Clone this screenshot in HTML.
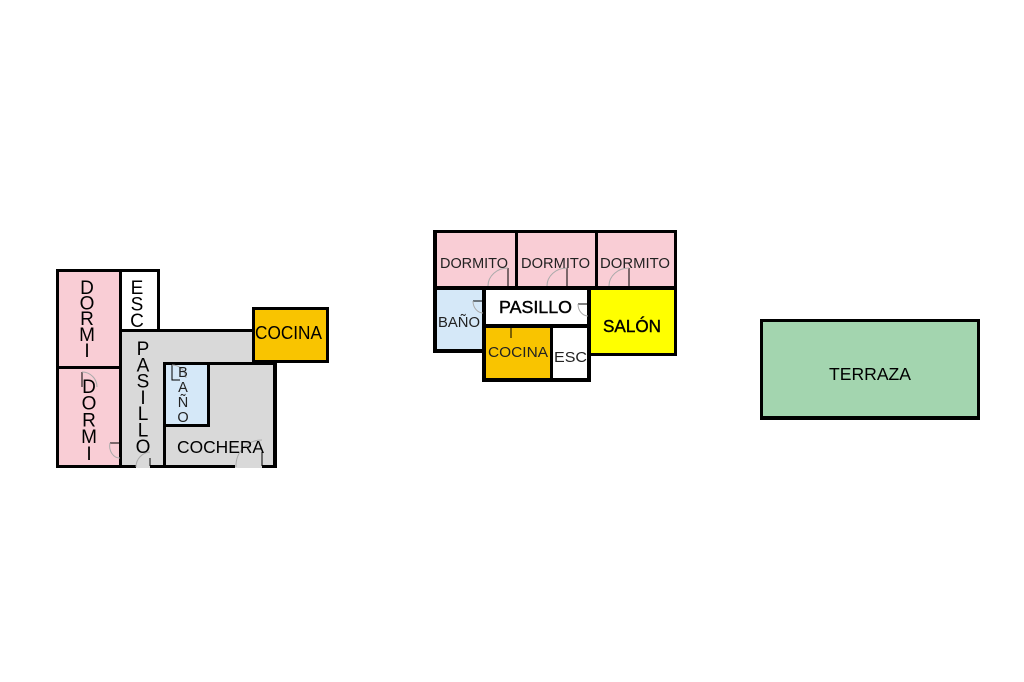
<!DOCTYPE html>
<html><head><meta charset="utf-8"><style>
html,body{margin:0;padding:0;background:#fff;}
svg{display:block;}
text{font-family:"Liberation Sans",Arial,sans-serif;}
</style></head><body>
<svg width="1024" height="682" viewBox="0 0 1024 682" xmlns="http://www.w3.org/2000/svg">
<rect width="1024" height="682" fill="#fff"/>

<!-- LEFT PLAN fills -->
<rect x="57" y="270" width="64" height="197" fill="#f9cdd5"/>
<rect x="121" y="330" width="44" height="138" fill="#d9d9d9"/>
<rect x="121" y="330" width="133" height="33" fill="#d9d9d9"/>
<rect x="164" y="362" width="112" height="106" fill="#d9d9d9"/>
<rect x="165" y="364" width="44" height="62" fill="#d5e8f8"/>
<rect x="253" y="308" width="76" height="55" fill="#f9c400"/>

<!-- LEFT PLAN walls -->
<g fill="#000">
<rect x="56" y="269" width="104" height="3"/>
<rect x="56" y="269" width="3" height="199"/>
<rect x="119" y="269" width="3" height="199"/>
<rect x="157" y="269" width="3" height="62"/>
<rect x="119" y="329" width="136" height="3"/>
<rect x="56" y="366" width="66" height="3"/>
<rect x="252" y="307" width="77" height="3"/>
<rect x="252" y="307" width="3" height="56"/>
<rect x="326" y="307" width="3" height="56"/>
<rect x="252" y="360" width="77" height="3"/>
<rect x="163" y="362" width="114" height="3"/>
<rect x="163" y="362" width="3" height="106"/>
<rect x="273" y="362" width="4" height="106"/>
<rect x="207" y="362" width="3" height="65"/>
<rect x="163" y="424" width="47" height="3"/>
<rect x="56" y="465" width="80" height="3"/>
<rect x="150" y="465" width="85" height="3"/>
<rect x="262" y="465" width="15" height="3"/>
</g>
<!-- left doors -->
<g fill="none" stroke-width="1">
<path d="M82 372 L82 387" stroke="#000"/>
<path d="M82 372 A15 15 0 0 1 97 387" stroke="#aaa"/>
<path d="M110 443 L120 443" stroke="#000"/>
<path d="M110 443 A10 12 0 0 0 120 458" stroke="#aaa"/>
<path d="M172 365 L172 380 L180 380" stroke="#000"/>
<path d="M172 365 A14 14 0 0 1 186 378" stroke="#aaa"/>
<path d="M150 458 L150 466" stroke="#000"/>
<path d="M150 452 A15 15 0 0 0 136 467" stroke="#aaa"/>
<path d="M262 452 L262 466" stroke="#000"/>
<path d="M262 440 A26 26 0 0 0 236 467" stroke="#aaa"/>
</g>

<!-- LEFT PLAN text -->
<g font-size="19" fill="#000" text-anchor="middle">
<text x="87" y="294">D</text><text x="87" y="309.6">O</text><text x="87" y="325.2">R</text><text x="87" y="340.8">M</text><text x="87" y="357">I</text>
<text x="89" y="393">D</text><text x="89" y="409.7">O</text><text x="89" y="426.4">R</text><text x="89" y="443.1">M</text><text x="89" y="460">I</text>
<text x="137" y="294">E</text><text x="137" y="310.5">S</text><text x="137" y="327">C</text>
<text x="143" y="355">P</text><text x="143" y="371.3">A</text><text x="143" y="387.6">S</text><text x="143" y="403.9">I</text><text x="143" y="420.2">L</text><text x="143" y="436.5">L</text><text x="143" y="452.8">O</text>
</g>
<g font-size="14.5" fill="#222" text-anchor="middle">
<text x="183" y="377">B</text><text x="183" y="392">A</text><text x="183" y="407">Ñ</text><text x="183" y="422">O</text>
</g>
<text x="177" y="453" font-size="17.5" textLength="87" lengthAdjust="spacingAndGlyphs">COCHERA</text>
<text x="255" y="339" font-size="18" textLength="67" lengthAdjust="spacingAndGlyphs">COCINA</text>

<!-- CENTER PLAN fills -->
<rect x="434" y="231" width="243" height="58" fill="#f9cdd5"/>
<rect x="434" y="288" width="51" height="64" fill="#d5e8f8"/>
<rect x="589" y="288" width="88" height="68" fill="#ffff00"/>
<rect x="483" y="325" width="69" height="56" fill="#f9c400"/>

<!-- CENTER PLAN walls -->
<g fill="#000">
<rect x="433" y="230" width="244" height="3"/>
<rect x="433" y="230" width="4" height="123"/>
<rect x="515" y="230" width="3" height="60"/>
<rect x="595" y="230" width="3" height="60"/>
<rect x="674" y="230" width="3" height="126"/>
<rect x="433" y="286" width="244" height="4"/>
<rect x="482" y="286" width="4" height="96"/>
<rect x="433" y="349" width="53" height="4"/>
<rect x="482" y="324" width="108" height="4"/>
<rect x="550" y="324" width="3" height="58"/>
<rect x="587" y="286" width="4" height="96"/>
<rect x="482" y="378" width="108" height="4"/>
<rect x="587" y="353" width="90" height="3"/>
</g>
<!-- center doors -->
<g fill="none" stroke-width="1">
<path d="M508 268 L508 286" stroke="#000"/>
<path d="M508 268 A20 18 0 0 0 488 286" stroke="#aaa"/>
<path d="M567 268 L567 286" stroke="#000"/>
<path d="M567 268 A20 18 0 0 0 547 286" stroke="#aaa"/>
<path d="M629 268 L629 286" stroke="#000"/>
<path d="M629 268 A20 18 0 0 0 609 286" stroke="#aaa"/>
<path d="M473 301 L483 301" stroke="#000"/>
<path d="M473 301 A10 12 0 0 0 483 313" stroke="#aaa"/>
<path d="M578 304 L588 304" stroke="#000"/>
<path d="M578 304 A10 12 0 0 0 588 316" stroke="#aaa"/>
<path d="M511 328 L511 338" stroke="#000"/>
</g>

<!-- CENTER text -->
<g font-size="15" fill="#222">
<text x="440" y="268" textLength="68" lengthAdjust="spacingAndGlyphs">DORMITO</text>
<text x="521" y="268" textLength="69" lengthAdjust="spacingAndGlyphs">DORMITO</text>
<text x="600" y="268" textLength="70" lengthAdjust="spacingAndGlyphs">DORMITO</text>
<text x="438" y="327" textLength="42" lengthAdjust="spacingAndGlyphs">BAÑO</text>
<text x="488" y="357" textLength="60" lengthAdjust="spacingAndGlyphs">COCINA</text>
<text x="554" y="362" textLength="33" lengthAdjust="spacingAndGlyphs">ESC</text>
</g>
<text x="499" y="313" font-size="17.5" fill="#000" stroke="#000" stroke-width="0.4" textLength="73" lengthAdjust="spacingAndGlyphs">PASILLO</text>
<text x="603" y="332" font-size="17.5" fill="#000" stroke="#000" stroke-width="0.4" textLength="58" lengthAdjust="spacingAndGlyphs">SALÓN</text>

<!-- TERRAZA -->
<rect x="760" y="319" width="220" height="101" fill="#a3d5af"/>
<g fill="#000">
<rect x="760" y="319" width="220" height="3"/>
<rect x="760" y="416" width="220" height="4"/>
<rect x="760" y="319" width="3" height="101"/>
<rect x="977" y="319" width="3" height="101"/>
</g>
<text x="829" y="380" font-size="17.5" fill="#000" textLength="82" lengthAdjust="spacingAndGlyphs">TERRAZA</text>
</svg>
</body></html>
